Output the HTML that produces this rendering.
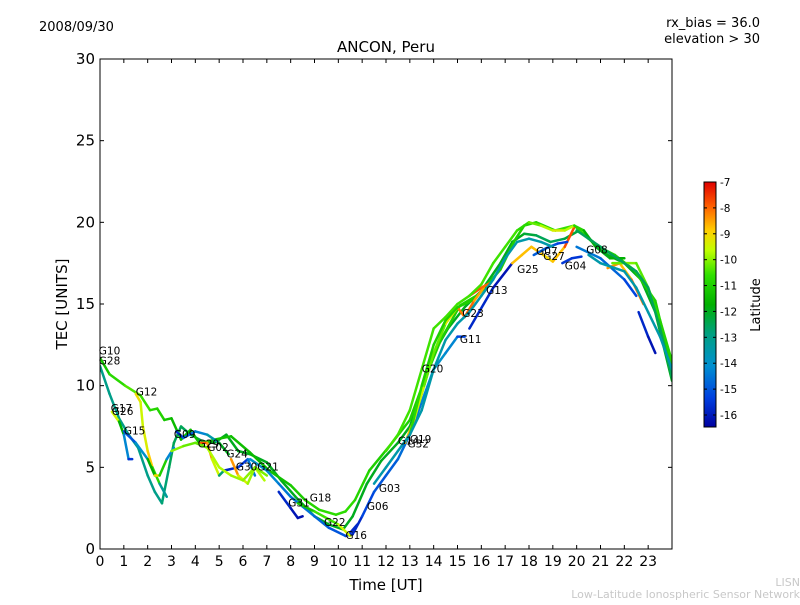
<!DOCTYPE html>
<html><head><meta charset="utf-8"><style>
body{margin:0;background:#fff;font-family:"Liberation Sans","DejaVu Sans",sans-serif}
svg text{font-family:"DejaVu Sans","Liberation Sans",sans-serif}
</style></head><body>
<svg id="chart" width="800" height="600" viewBox="0 0 800 600" xmlns="http://www.w3.org/2000/svg">
<rect width="800" height="600" fill="#fff"/>
<text x="39" y="31" font-size="13">2008/09/30</text>
<text x="760" y="27" font-size="13" text-anchor="end">rx_bias = 36.0</text>
<text x="760" y="43" font-size="13" text-anchor="end">elevation &gt; 30</text>
<text x="386" y="52" font-size="15" text-anchor="middle">ANCON, Peru</text>
<text x="386" y="590" font-size="15" text-anchor="middle">Time [UT]</text>
<text transform="translate(67,304) rotate(-90)" font-size="15" text-anchor="middle">TEC [UNITS]</text>
<text x="800" y="586" font-size="11" fill="#c8c8c8" text-anchor="end">LISN</text>
<text x="800" y="598" font-size="11" fill="#c8c8c8" text-anchor="end">Low-Latitude Ionospheric Sensor Network</text>
<defs><linearGradient id="cb" x1="0" y1="1" x2="0" y2="0">
<stop offset="0" stop-color="#0000a0"/><stop offset="0.12" stop-color="#0040e0"/><stop offset="0.25" stop-color="#0090d0"/><stop offset="0.38" stop-color="#00a080"/><stop offset="0.5" stop-color="#00b000"/><stop offset="0.62" stop-color="#30e000"/><stop offset="0.72" stop-color="#c0ff00"/><stop offset="0.8" stop-color="#ffd000"/><stop offset="0.9" stop-color="#ff6000"/><stop offset="1" stop-color="#e00000"/></linearGradient></defs>
<g id="plot"></g>
<rect x="704" y="182" width="12" height="245" fill="url(#cb)" stroke="#000"/>
<text transform="translate(760,305) rotate(-90)" font-size="13" text-anchor="middle">Latitude</text>
<g id="cbt"></g>
</svg>
<script>
const NS="http://www.w3.org/2000/svg";
const xTicks=[0,1,2,3,4,5,6,7,8,9,10,11,12,13,14,15,16,17,18,19,20,21,22,23];
const yTicks=[0,5,10,15,20,25,30];
const cbTicks=[-7,-8,-9,-10,-11,-12,-13,-14,-15,-16];
const traceNames=["G28","G10","G12","G17","G15","G09","G29","G24","G21","G31","G18","G06","G19","G20","G23","G13","G25","G07","G27","G04","G08","G11","G05","G01","G02","G03","G14","G32","G26","G30","G22"];
const hours=[
[0,0.4,0.8,1.2,1.6,2,2.3,2.6,2.9,3.1,3.4,3.8,4.3,4.8,5.3,5.8,6.3,7,7.6,8.2,9,9.6,10.2,10.6,11.2,11.8,12.5,13,13.5,14,14.6,15.3,16,16.8,17.3,17.8,18.3,18.9,19.5,20.1,20.7,21.3,22,22.7,23.3,24],
[0,0.4,1.05,1.7,2.1,2.4,2.7,3,3.4,3.8,4.2,4.8,5.5,6.3,7.1,8,8.6,9.2,9.9,10.3,10.7,11.3,12.2,13,13.6,14.3,15.1,15.9,16.8,17.4,17.8,18.3,19.1,19.9,20.8,21.6,22.4,23.3,24],
[1.5,1.7,1.8,2,2.2,2.5,2.8],
[0.5,0.8,1,1.2,1.35],
[1,1.5,2,2.3,2.5,2.8,3.1],
[3.2,3.5,4,4.5,5,5.4],
[4.2,4.5,4.7,5,5.2,5.8,6.2,6.5],
[5.5,5.8,6.2,6.5,6.9],
[6.3,7,7.5,8,8.5,9,9.6,10.3,10.6],
[7.5,8,8.3,8.5],
[8.3,9,10,10.5],
[10.6,11,11.5,12,12.5,13,13.5,14,14.5,15,15.3],
[12.8,13.2,13.6,14,14.5,15,15.3],
[13,13.5,14,14.5,15,15.6],
[15.3,15.7,16.1],
[15.5,16,16.4],
[15.5,16.5,17.3],
[17.3,17.7,18.1,18.6,19,19.5,19.9],
[18.2,18.7,19.2,19.6],
[19.4,19.8,20.2],
[17.5,18,18.5,19,19.5,19.9,20.3,20.8,21.4,22],
[20,21,22,22.5],
[22.6,23,23.3],
[21.3,21.8,22.3,22.8],
[21.5,22,22.5,23,23.5,24],
[10.5,10.8],
[11.5,12,12.5,13,13.5,14,14.5,15,15.5,16,16.5,17,17.5,18,18.5,19],
[12,12.5,13,13.5,14,14.5,15,15.5,16,16.5,17,17.5],
[20,20.5,21,21.5,22,22.5,23,23.5,24],
[20.5,21,22,22.5,23,23.5,24],
[3,3.5,4,4.5,5,5.5,6,6.5,7]
];
const tec=[
[11.2,9.5,8,7,6.2,4.5,3.5,2.8,5,6.5,7.5,7,6.6,6.5,7,6,5.8,5.3,4.2,3.2,2,1.5,1.2,2,4,5.4,6.5,7.5,9.5,12,13.5,14.8,15.8,17.5,18.8,19.3,19.2,18.8,19,19.5,18.8,18,17.5,16.5,14.5,10.3],
[11.7,10.7,10,9.4,8.5,8.6,7.9,8,6.7,7.3,6.4,6.7,6.9,5.9,4.8,3.9,3,2.4,2.1,2.3,3,4.8,6.4,7.9,10.3,12.8,14.9,15.6,17.1,18.9,19.8,20,19.5,19.8,18.6,18,17.1,15.2,11],
[9.5,9,7.5,6,5,4,3.2],
[8.4,7.8,7,5.5,5.5],
[7.2,6.5,5.5,4.5,4.5,5.5,6.2],
[7.2,6.8,7.2,7,6.5,5.8],
[6.5,6.5,5.5,4.5,4.8,5,5.5,4.5],
[5.5,4.5,4,5,4.2],
[5.5,4.8,4,3.2,2.6,2,1.3,0.8,0.9],
[3.5,2.5,1.9,2],
[2.8,2.3,1.5,0.8],
[0.9,2,3.5,4.5,5.5,7,9,11,12,13,13],
[6.5,8,10,12,13.8,14.8,14.2],
[7,10,12.5,14,14.8,15.2],
[14.2,15.2,16],
[15.5,16,16.3],
[13.5,16,17.5],
[17.5,18,18.5,18,17.6,18.5,19.7],
[18,18.4,18.7,18.8],
[17.5,17.8,17.9],
[19.5,20,19.8,19.5,19.5,19.8,19.5,18.5,17.8,17.8],
[18.5,17.8,16.5,15.5],
[14.5,13,12],
[17.2,17.5,16.5,15],
[17.5,17.5,17.5,16,14,11.5],
[1,1.5],
[4,5,6,7,8.5,11,12.8,13.8,14.5,15.5,16.5,17.8,18.8,19,18.8,18.5],
[6,7,8.5,11,13.5,14.2,15,15.5,16.2,17.5,18.5,19.5],
[19.5,19,18.5,18,17.5,17,16,13.5,10.5],
[18,17.5,17,16,14.5,13,11],
[6,6.3,6.5,6.2,5,4.5,4.2,5,4.5]
];
const lat=[
[-13,-13,-13,-13,-13,-13,-13,-13,-12.5,-12.5,-12.5,-12.5,-12,-12,-12,-12,-12,-12,-12,-12,-12,-12,-12,-12,-12,-12,-12,-12,-12,-12,-12,-12,-12,-12,-12,-12,-12.5,-12.5,-12.5,-12,-12,-12,-12,-12,-12,-12],
[-11.5,-11,-10.5,-10.3,-10.8,-10.8,-11,-11.5,-11.5,-11.5,-11.3,-11.3,-11.3,-11.5,-11.5,-11.2,-11,-10.7,-10.7,-10.7,-10.7,-11,-11,-11,-11,-11,-11,-11,-11,-11,-11,-11,-10.6,-10.5,-11,-11,-11,-11,-11],
[-8.8,-9.5,-9.5,-9.2,-8.5,-13,-13.5],
[-9,-10,-13.5,-15,-16],
[-15.5,-14.5,-13.5,-10,-8,-14,-14.5],
[-16,-15,-14.5,-14,-13,-11],
[-7.8,-7.8,-9,-10,-15.5,-16,-15,-14],
[-7.8,-9,-9.8,-10,-9.5],
[-14,-14,-14.5,-14.5,-14.5,-14.5,-15,-15,-15.5],
[-15.5,-16,-16.2,-16.2],
[-11.5,-11,-10,-9],
[-16,-15.5,-15,-15,-14.8,-14.5,-14.5,-14,-14,-14.5,-16],
[-8.5,-9,-10,-10.5,-10,-8.5,-7.8],
[-10.5,-11,-11,-11,-11,-11],
[-7.5,-8.5,-8.5],
[-7.5,-8,-8],
[-15.5,-16,-16.2],
[-9,-8.5,-9,-8.5,-9.5,-8,-7.5],
[-15,-14.8,-15.2,-15.5],
[-15.5,-15.5,-15.5],
[-11,-10.5,-10,-9.5,-9.2,-10.2,-11.5,-12,-12,-11.5],
[-14.5,-14.5,-15,-15.5],
[-15.5,-16,-16.2],
[-7.8,-9,-8.5,-7.8],
[-10.5,-10,-10.2,-10.5,-10.8,-11],
[-15.5,-16],
[-13.5,-13.5,-13.5,-13.5,-13.5,-13.5,-13.5,-13.5,-13.5,-13.5,-13.5,-13.5,-13.5,-13.5,-13.5,-13.5],
[-10.5,-10.5,-10.5,-10.5,-10.5,-10.5,-10.5,-10.5,-10.5,-10.5,-10.5,-10.5],
[-12.5,-12.5,-12.5,-12.5,-12.5,-12.5,-12.5,-12.5,-12.5],
[-13.5,-13.5,-13.5,-13.5,-13.5,-13.5,-13.5],
[-10,-10,-10.5,-10,-9.5,-10,-9.8,-10.2,-10]
];
const labelNames=["G10","G28","G12","G17","G26","G15","G09","G29","G02","G24","G30","G21","G31","G18","G22","G16","G06","G03","G14","G19","G32","G20","G11","G23","G13","G25","G07","G27","G04","G08"];
const labelH=[-0.05,-0.05,1.5,0.45,0.5,1,3.1,4.1,4.5,5.3,5.7,6.6,7.9,8.8,9.4,10.3,11.2,11.7,12.5,13,12.9,13.5,15.1,15.2,16.2,17.5,18.3,18.6,19.5,20.4];
const labelV=[11.9,11.3,9.4,8.4,8.2,7.0,6.8,6.2,6.0,5.6,4.8,4.8,2.6,2.9,1.4,0.6,2.4,3.5,6.4,6.5,6.2,10.8,12.6,14.2,15.6,16.9,18.0,17.7,17.1,18.1];

const X0=100,X1=672,Y0=549,Y1=59;
const xs=h=>X0+h*(X1-X0)/24, ys=v=>Y0-v*(Y0-Y1)/30;
const cbY=v=>182+(-7-v)*(415-182)/9;
const stops=[[0,[0,0,160]],[0.12,[0,64,224]],[0.25,[0,144,208]],[0.38,[0,160,128]],[0.5,[0,176,0]],[0.62,[48,224,0]],[0.72,[192,255,0]],[0.8,[255,208,0]],[0.9,[255,96,0]],[1,[224,0,0]]];
function col(l){let t=(l+16.46)/9.46;t=Math.max(0,Math.min(1,t));
 for(let i=1;i<stops.length;i++){if(t<=stops[i][0]){const a=stops[i-1],b=stops[i],f=(t-a[0])/(b[0]-a[0]);
 return "rgb("+a[1].map((c,k)=>Math.round(c+(b[1][k]-c)*f)).join(",")+")";}}return "rgb(224,0,0)";}
function mk(tag,attrs,parent){const e=document.createElementNS(NS,tag);for(const k in attrs)e.setAttribute(k,attrs[k]);parent.appendChild(e);return e;}
const plot=document.getElementById("plot");
mk("rect",{x:X0,y:Y1,width:X1-X0,height:Y0-Y1,fill:"#fff"},plot);
const clip=mk("clipPath",{id:"pc"},plot);mk("rect",{x:X0,y:Y1,width:X1-X0,height:Y0-Y1},clip);
const lines=mk("g",{"clip-path":"url(#pc)"},plot);
hours.forEach((hs,i)=>{
 const g=mk("g",{},lines);
 
 
 for(let j=1;j<hs.length;j++){
  mk("line",{x1:xs(hs[j-1]),y1:ys(tec[i][j-1]),x2:xs(hs[j]),y2:ys(tec[i][j]),stroke:col((lat[i][j-1]+lat[i][j])/2),"stroke-width":2.5,"stroke-linecap":"round"},g);
 }
});
labelNames.forEach((n,i)=>{
 const t=mk("text",{x:xs(labelH[i]),y:ys(labelV[i]),"font-size":10.5},plot);
 
 
 t.textContent=n;
});
const frame=mk("rect",{x:X0,y:Y1,width:X1-X0,height:Y0-Y1,fill:"none",stroke:"#000","stroke-width":1},plot);


xTicks.forEach(h=>{
 const x=xs(h);
 mk("line",{x1:x,y1:Y0,x2:x,y2:Y0-4,stroke:"#000"},plot);
 mk("line",{x1:x,y1:Y1,x2:x,y2:Y1+4,stroke:"#000"},plot);
 const t=mk("text",{x:x,y:Y0+17,"font-size":14,"text-anchor":"middle"},plot);
 
 
 t.textContent=h;
});
yTicks.forEach(v=>{
 const y=ys(v);
 mk("line",{x1:X0,y1:y,x2:X0+4,y2:y,stroke:"#000"},plot);
 mk("line",{x1:X1,y1:y,x2:X1-4,y2:y,stroke:"#000"},plot);
 const t=mk("text",{x:X0-5,y:y+5,"font-size":15,"text-anchor":"end"},plot);
 
 
 t.textContent=v;
});
const cbt=document.getElementById("cbt");
cbTicks.forEach(v=>{
 const y=cbY(v);
 mk("line",{x1:704,y1:y,x2:707,y2:y,stroke:"#000"},cbt);
 mk("line",{x1:716,y1:y,x2:713,y2:y,stroke:"#000"},cbt);
 const t=mk("text",{x:720,y:y+4,"font-size":10.5},cbt);
 
 
 t.textContent=v;
});
</script>
</body></html>
